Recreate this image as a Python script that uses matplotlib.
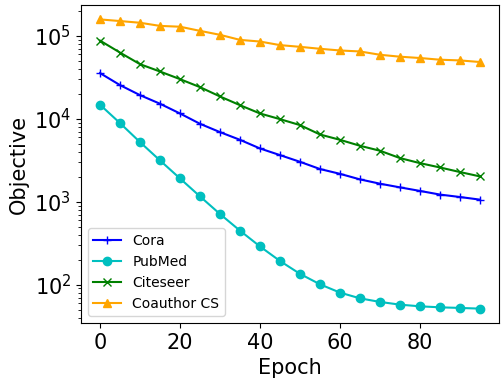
import matplotlib
matplotlib.use('Agg')
import matplotlib.pyplot as plt
import numpy as np

epochs = list(range(0, 100, 5))

cora = [3.56e4, 2.55e4, 1.93e4, 1.52e4, 1.16e4, 8.71e3, 6.91e3, 5.58e3, 4.39e3, 3.65e3,
        3.03e3, 2.48e3, 2.17e3, 1.86e3, 1.65e3, 1.49e3, 1.35e3, 1.22e3, 1.14e3, 1.06e3]
pubmed = [1.48e4, 8.88e3, 5.24e3, 3.15e3, 1.91e3, 1.16e3, 711, 448, 289, 193,
          135, 101, 80.2, 68.4, 61.9, 57.4, 54.8, 53.3, 52.4, 51.4]
citeseer = [8.78e4, 6.29e4, 4.56e4, 3.72e4, 3.01e4, 2.41e4, 1.86e4, 1.46e4, 1.16e4, 9.91e3,
            8.40e3, 6.47e3, 5.58e3, 4.73e3, 4.12e3, 3.36e3, 2.92e3, 2.59e3, 2.28e3, 2.02e3]
coauthor = [1.58e5, 1.51e5, 1.44e5, 1.32e5, 1.29e5, 1.15e5, 1.03e5, 8.95e4, 8.55e4, 7.74e4,
            7.38e4, 6.99e4, 6.67e4, 6.49e4, 5.92e4, 5.61e4, 5.41e4, 5.16e4, 5.06e4, 4.84e4]

fig, ax = plt.subplots(figsize=(5.03, 3.81), dpi=100)

ax.plot(epochs, cora, color='b', marker='+', label='Cora')
ax.plot(epochs, pubmed, color='c', marker='o', label='PubMed')
ax.plot(epochs, citeseer, color='g', marker='x', label='Citeseer')
ax.plot(epochs, coauthor, color='orange', marker='^', label='Coauthor CS')

ax.set_yscale('log')
ax.set_xlabel('Epoch', fontsize=15)
ax.set_ylabel('Objective', fontsize=15)
ax.tick_params(axis='both', which='major', labelsize=15)
ax.legend(loc='lower left', fontsize=10)

plt.subplots_adjust(left=0.161, right=0.992, top=0.987, bottom=0.152)
plt.savefig('out.png')
